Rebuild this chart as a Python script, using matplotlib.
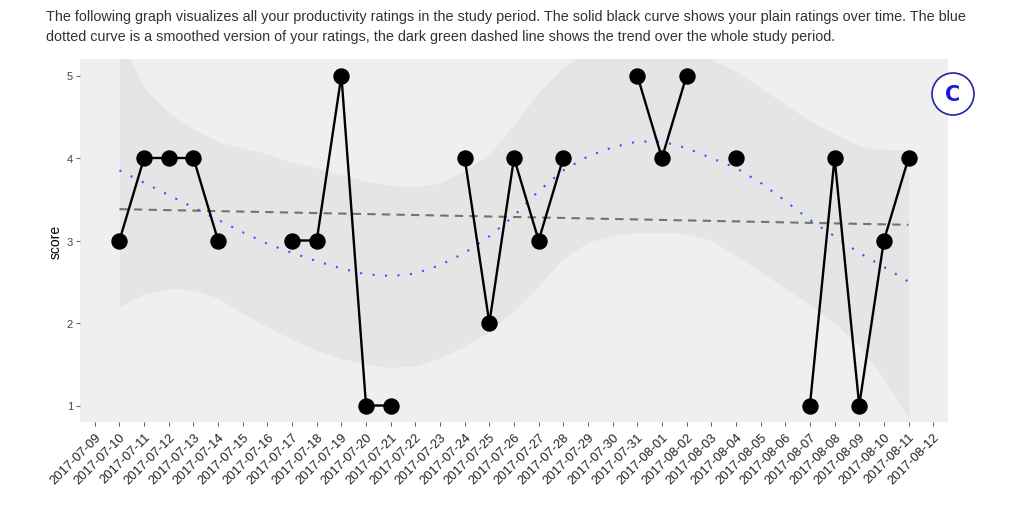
import numpy as np
import pandas as pd
import matplotlib
matplotlib.use("Agg")
import matplotlib.pyplot as plt
import matplotlib.dates as mdates
from matplotlib.patches import Ellipse

plt.rcParams["font.family"] = ["Liberation Sans", "DejaVu Sans"]

# daily ratings, NaN = no rating that day (gives the gaps in the line)
days = pd.date_range("2017-07-10", "2017-08-11", freq="D")
score = [3, 4, 4, 4, 3, np.nan, np.nan, 3, 3, 5, 1, 1, np.nan, np.nan, 4, 2, 4, 3, 4,
         np.nan, np.nan, 5, 4, 5, np.nan, 4, np.nan, np.nan, 1, 4, 1, 3, 4]

# smoothed curve and its band
smooth = [3.85, 3.70, 3.55, 3.40, 3.25, 3.10, 2.96, 2.85, 2.75, 2.66, 2.59, 2.57, 2.60,
          2.70, 2.85, 3.05, 3.30, 3.60, 3.85, 4.02, 4.13, 4.20, 4.20, 4.12, 4.00, 3.88,
          3.70, 3.48, 3.25, 3.05, 2.85, 2.68, 2.50]
band_lo = [2.20, 2.35, 2.42, 2.40, 2.30, 2.12, 1.95, 1.80, 1.67, 1.57, 1.50, 1.46, 1.48,
           1.58, 1.72, 1.90, 2.15, 2.45, 2.78, 2.98, 3.06, 3.10, 3.10, 3.08, 3.00, 2.82,
           2.62, 2.42, 2.22, 2.00, 1.72, 1.32, 0.85]
band_hi = [5.50, 4.85, 4.55, 4.35, 4.20, 4.12, 4.05, 3.95, 3.88, 3.80, 3.72, 3.67, 3.65,
           3.70, 3.85, 4.05, 4.40, 4.80, 5.10, 5.30, 5.35, 5.35, 5.35, 5.30, 5.20, 5.05,
           4.85, 4.65, 4.45, 4.30, 4.15, 4.10, 4.10]

# linear trend over the whole period (start, end)
trend_days = [days[0], days[-1]]
trend = [3.38, 3.19]

tick_days = pd.date_range("2017-07-09", "2017-08-12", freq="D")

intro = ("The following graph visualizes all your productivity ratings in the study period. "
         "The solid black curve shows your plain ratings over time. The blue\n"
         "dotted curve is a smoothed version of your ratings, the dark green dashed line "
         "shows the trend over the whole study period.")

fig = plt.figure(figsize=(10.27, 5.06), dpi=100)
ax = fig.add_axes([80 / 1027, 83 / 506, 868 / 1027, 363 / 506])
ax.set_facecolor("#efefef")

ax.fill_between(days, band_lo, band_hi, color="#e5e5e5", lw=0, zorder=1)
ax.plot(trend_days, trend, color="#5f7f5f", lw=1.5, ls=(0, (4, 3)), zorder=2)
ax.plot(days, smooth, color="#4a4aff", lw=1.5, ls=(0, (1, 5)), zorder=3)
ax.plot(days, score, color="black", lw=1.7, marker="o", ms=10.8, zorder=4)

ax.set_xlim(days[0] - pd.Timedelta(days=1.6), days[-1] + pd.Timedelta(days=1.6))
ax.set_ylim(0.8, 5.2)
ax.set_xticks(tick_days)
ax.xaxis.set_major_formatter(mdates.DateFormatter("%Y-%m-%d"))
ax.set_yticks([1, 2, 3, 4, 5])
for lab in ax.get_xticklabels():
    lab.set_rotation(45)
    lab.set_ha("right")
    lab.set_rotation_mode("anchor")
ax.tick_params(axis="x", labelsize=9.3, labelcolor="#222222", color="#666666", length=3, pad=3)
ax.tick_params(axis="y", labelsize=8, labelcolor="#444444", color="#666666", length=3, pad=2)
ax.set_ylabel("score", fontsize=10, labelpad=3)
for s in ax.spines.values():
    s.set_visible(False)

fig.text(46 / 1027, 1 - 10 / 506, intro, ha="left", va="top", fontsize=10.4,
         color="#333333", linespacing=1.5)

# circled "C" badge
fig.add_artist(Ellipse((953 / 1027, 1 - 95 / 506), 42 / 1027, 42 / 506,
                       transform=fig.transFigure, facecolor="white",
                       edgecolor="#2222aa", lw=1.2))
fig.text(953 / 1027, 1 - 95 / 506, "C", ha="center", va="center", fontsize=15,
         fontweight="bold", color="#1a1ae0", family="DejaVu Sans")

fig.savefig("out.png", dpi=100)
